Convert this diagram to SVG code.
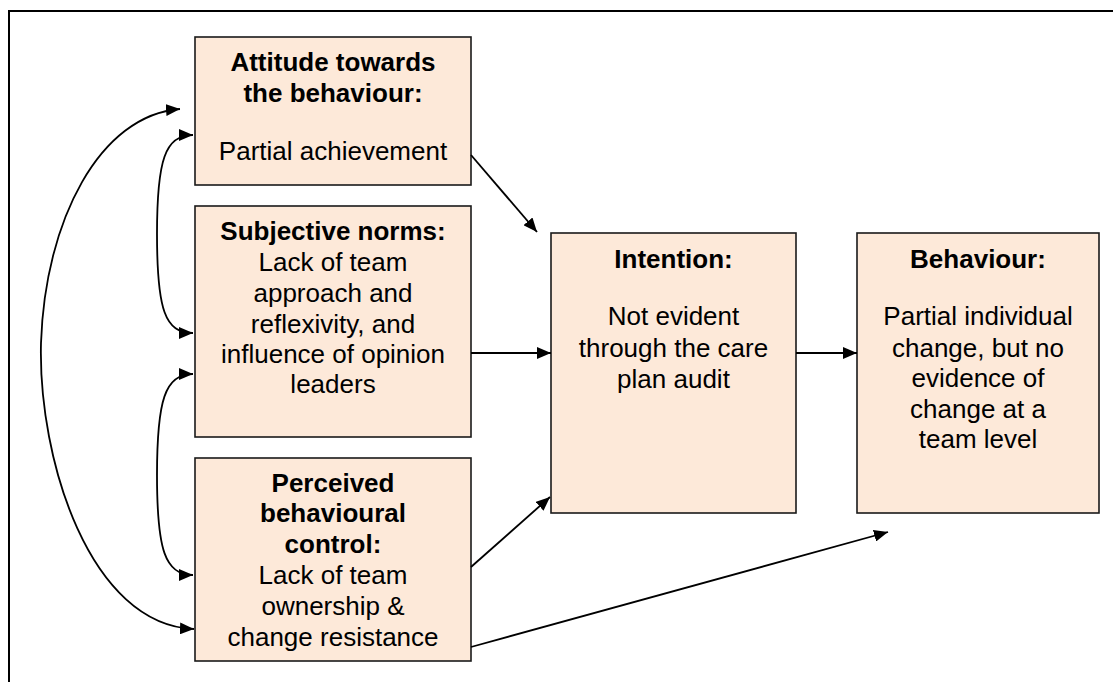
<svg xmlns="http://www.w3.org/2000/svg" width="1113" height="682" viewBox="0 0 1113 682">
<style>
.box{fill:#FDE9D9;stroke:#1a1a1a;stroke-width:1.6}
.t{font-family:"Liberation Sans",Arial,sans-serif;font-size:26px;fill:#000;text-anchor:middle}
.b{font-weight:bold}
.c{fill:none;stroke:#000;stroke-width:1.8}
</style>
<defs>
<marker id="ah" viewBox="0 0 14 12" refX="14" refY="6" markerWidth="14" markerHeight="12" markerUnits="userSpaceOnUse" orient="auto-start-reverse">
<path d="M0 0 L14 6 L0 12 Z" fill="#000"/>
</marker>
</defs>
<rect x="0" y="0" width="1113" height="682" fill="#fff"/>
<rect x="9" y="11" width="1120" height="690" fill="none" stroke="#000" stroke-width="2"/>
<g id="attitude">
<rect class="box" x="195" y="37" width="276" height="148"/>
<text class="t b" x="333" y="71">Attitude towards</text>
<text class="t b" x="333" y="102">the behaviour:</text>
<text class="t" x="333" y="160">Partial achievement</text>
</g>
<g id="subjective">
<rect class="box" x="195" y="206" width="276" height="231"/>
<text class="t b" x="333" y="240">Subjective norms:</text>
<text class="t" x="333" y="271">Lack of team</text>
<text class="t" x="333" y="302">approach and</text>
<text class="t" x="333" y="333">reflexivity, and</text>
<text class="t" x="333" y="363">influence of opinion</text>
<text class="t" x="333" y="393">leaders</text>
</g>
<g id="perceived">
<rect class="box" x="195" y="458" width="276" height="203"/>
<text class="t b" x="333" y="492">Perceived</text>
<text class="t b" x="333" y="522">behavioural</text>
<text class="t b" x="333" y="553">control:</text>
<text class="t" x="333" y="584">Lack of team</text>
<text class="t" x="333" y="615">ownership &amp;</text>
<text class="t" x="333" y="646">change resistance</text>
</g>
<g id="intention">
<rect class="box" x="551" y="233" width="245" height="280"/>
<text class="t b" x="673.5" y="268">Intention:</text>
<text class="t" x="673.5" y="325">Not evident</text>
<text class="t" x="673.5" y="357">through the care</text>
<text class="t" x="673.5" y="388">plan audit</text>
</g>
<g id="behaviour">
<rect class="box" x="857" y="233" width="242" height="280"/>
<text class="t b" x="978" y="268">Behaviour:</text>
<text class="t" x="978" y="325">Partial individual</text>
<text class="t" x="978" y="357">change, but no</text>
<text class="t" x="978" y="387">evidence of</text>
<text class="t" x="978" y="418">change at a</text>
<text class="t" x="978" y="448">team level</text>
</g>
<g id="connectors">
<path class="c" d="M180 109 C100 115,45 220,41 343 C38 460,90 625,194 629" marker-start="url(#ah)" marker-end="url(#ah)"/>
<path class="c" d="M193 135 C165 135,157 160,157 234 C157 310,165 333,193 333" marker-start="url(#ah)" marker-end="url(#ah)"/>
<path class="c" d="M193 374 C165 374,157 400,157 475 C157 550,165 575,193 575" marker-start="url(#ah)" marker-end="url(#ah)"/>
<path class="c" d="M471 155 L537 232" marker-end="url(#ah)"/>
<path class="c" d="M471 353 L551 353" marker-end="url(#ah)"/>
<path class="c" d="M796 353 L857 353" marker-end="url(#ah)"/>
<path class="c" d="M471 567 L550 497" marker-end="url(#ah)"/>
<path class="c" d="M471 647 L888 532" marker-end="url(#ah)"/>
</g>
</svg>
